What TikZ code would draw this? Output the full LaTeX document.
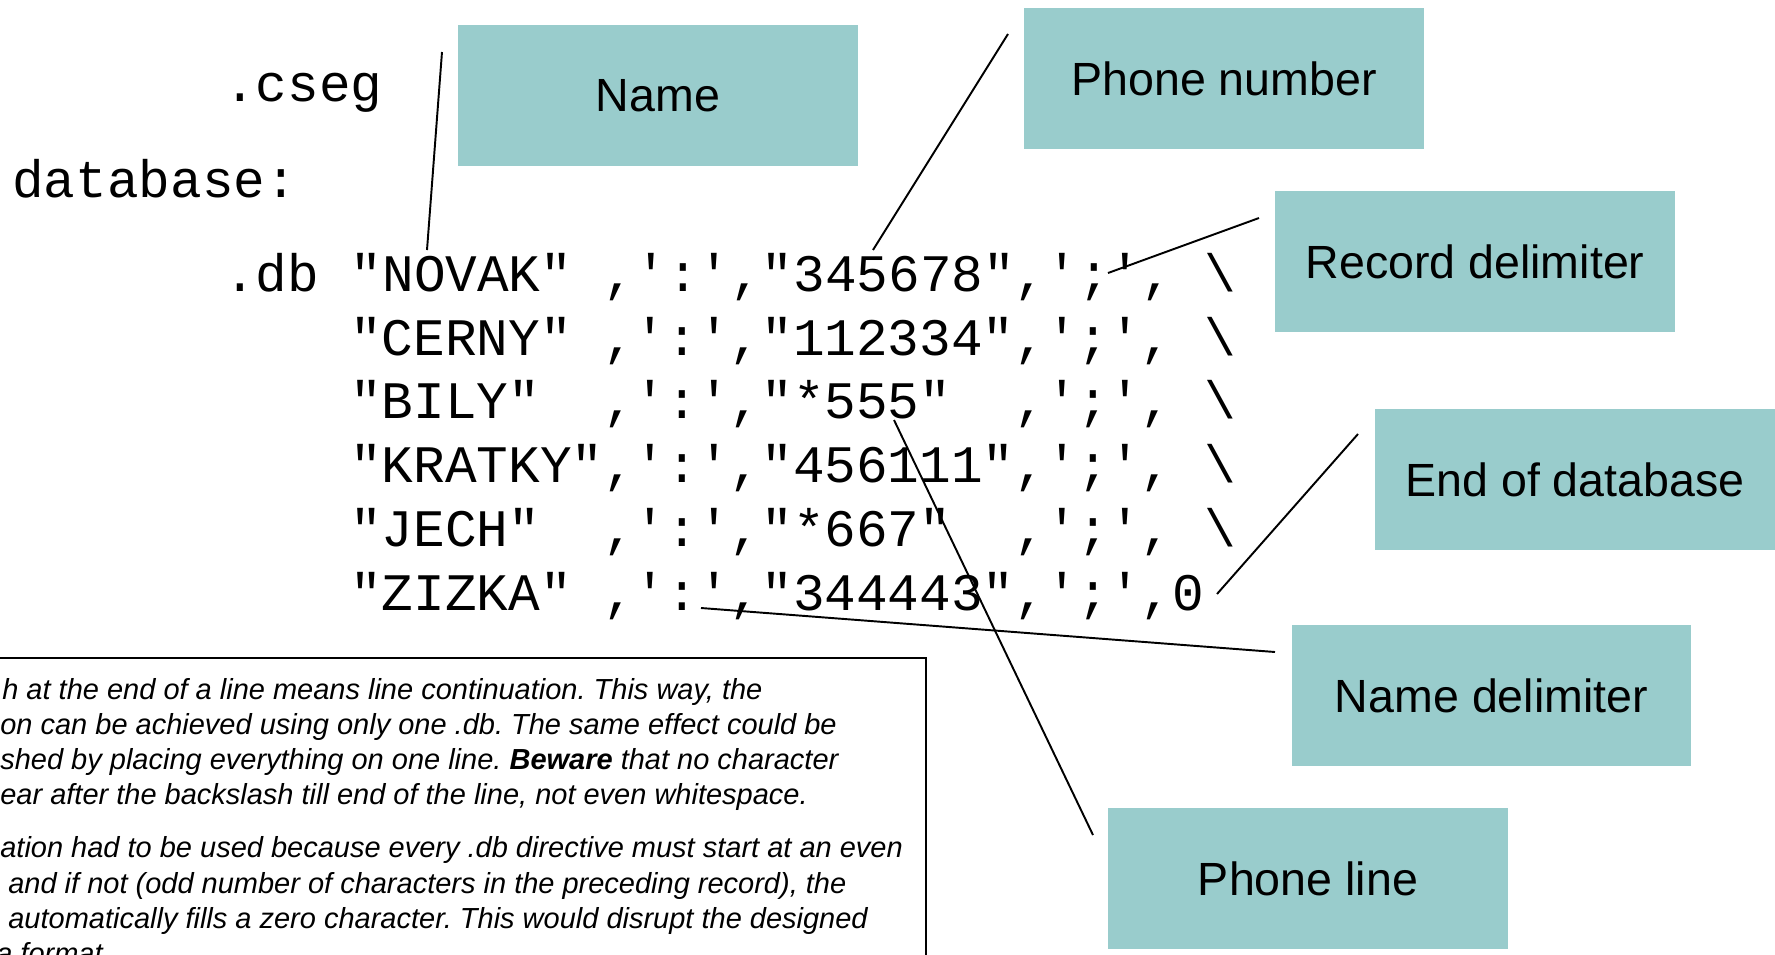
\documentclass[tikz,border=0pt]{standalone}
\usepackage{fontspec}
\setmainfont{Liberation Sans}
\setmonofont{Liberation Mono}
\frenchspacing

\definecolor{tagfill}{HTML}{99CCCC}

\begin{document}
\begin{tikzpicture}[
  x=0.02cm, y=-0.02cm,
  tag/.style={fill=tagfill, minimum width=8cm, minimum height=2.82cm, inner sep=0pt, font=\fontsize{26.5}{32}\selectfont},
  code/.style={anchor=base west, inner sep=0pt, font=\fontsize{30}{36}\selectfont\ttfamily},
  note/.style={anchor=base west, inner sep=0pt, font=\fontsize{16.5}{19.8}\selectfont\itshape},
  ptr/.style={line width=1.1pt}
]
\useasboundingbox (0,0) rectangle (1775,954);
\clip (0,0) rectangle (1775,954);

% the listing
\node[code] (cseg) at (224,101) {.cseg};
\node[code] (dblabel) at (12,197) {database:};
\node[code] (row1) at (224,291) {.db "NOVAK"~,':',"345678",';',~\textbackslash};
\node[code] (row2) at (350,355) {"CERNY"~,':',"112334",';',~\textbackslash};
\node[code] (row3) at (350,418) {"BILY"~~,':',"*555"~~,';',~\textbackslash};
\node[code] (row4) at (350,482) {"KRATKY",':',"456111",';',~\textbackslash};
\node[code] (row5) at (350,546) {"JECH"~~,':',"*667"~~,';',~\textbackslash};
\node[code] (row6) at (350,610) {"ZIZKA"~,':',"344443",';',0};

% labels
\node[tag] (name) at (658,95.5) {Name};
\node[tag] (phone) at (1224,78.5) {Phone number};
\node[tag] (recdelim) at (1475,261.5) {Record delimiter};
\node[tag] (enddb) at (1575,479.5) {End of database};
\node[tag] (namedelim) at (1491.5,695.5) {Name delimiter};
\node[tag] (phoneline) at (1308,878.5) {Phone line};

% pointers
\coordinate (name-a) at (442,52);
\coordinate (name-b) at (427,250);
\coordinate (phone-a) at (1008,34);
\coordinate (phone-b) at (873,250);
\coordinate (recdelim-a) at (1259,218);
\coordinate (recdelim-b) at (1108,273);
\coordinate (enddb-a) at (1358,434);
\coordinate (enddb-b) at (1217,594);
\coordinate (namedelim-a) at (1275,652);
\coordinate (namedelim-b) at (701,608);
\coordinate (phoneline-a) at (1093,835);
\coordinate (phoneline-b) at (894,420);
\draw[ptr] (name-a) -- (name-b);
\draw[ptr] (phone-a) -- (phone-b);
\draw[ptr] (recdelim-a) -- (recdelim-b);
\draw[ptr] (enddb-a) -- (enddb-b);
\draw[ptr] (namedelim-a) -- (namedelim-b);
\draw[ptr] (phoneline-a) -- (phoneline-b);

% note box
\draw[line width=1.3pt] (-10,658) rectangle (926,1000);
\node[note] (n1) at (2,699) {h at the end of a line means line continuation. This way, the};
\node[note] (n2) at (0,734) {on can be achieved using only one .db. The same effect could be};
\node[note] (n3) at (0,769) {shed by placing everything on one line. \textbf{Beware} that no character};
\node[note] (n4) at (0,804) {ear after the backslash till end of the line, not even whitespace.};
\node[note] (n5) at (0,857) {ation had to be used because every .db directive must start at an even};
\node[note] (n6) at (8,893) {and if not (odd number of characters in the preceding record), the};
\node[note] (n7) at (8,928) {automatically fills a zero character. This would disrupt the designed};
\node[note] (n8) at (-4,963) {a format};
\end{tikzpicture}
\end{document}
